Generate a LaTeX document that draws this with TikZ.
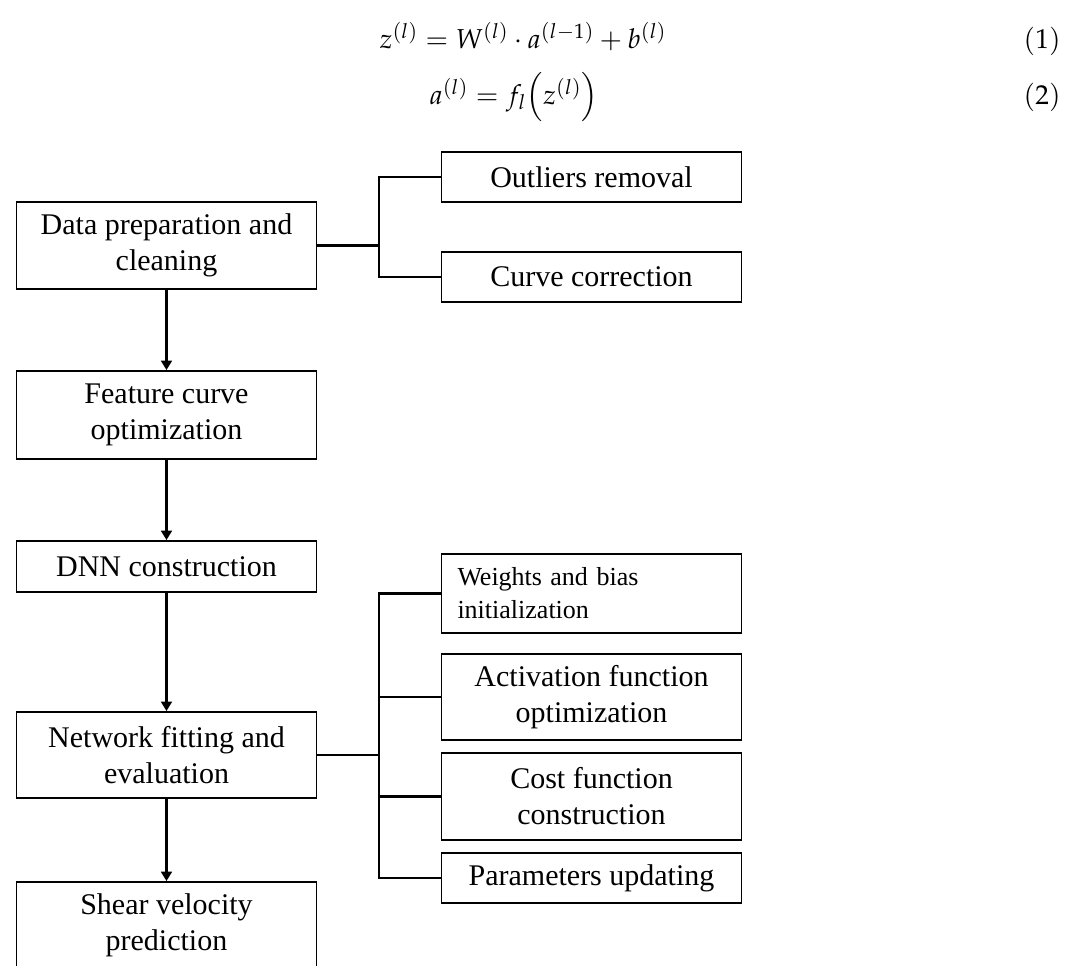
\documentclass[tikz,border=0pt]{standalone}
\usepackage{mathpazo}
\usepackage[no-math]{fontspec}
\newfontfamily\boxfont{Liberation Serif}
\usetikzlibrary{arrows.meta}

\begin{document}
\begin{tikzpicture}[x=0.75pt,y=-0.75pt,
  box/.style={draw, line width=1.4pt, minimum width=225pt, inner sep=0pt,
    align=center, font=\boxfont\fontsize{22.5}{27}\selectfont},
  smallbox/.style={box, align=left, text width=201pt, inner xsep=12pt,
    font=\boxfont\fontsize{19.5}{24.75}\selectfont},
  link/.style={line width=1.9pt},
  flow/.style={link, -{Triangle[length=7pt,width=8pt]}},
  eqn/.style={anchor=base, font=\fontsize{20.5}{24}\selectfont, inner sep=0pt}]

\useasboundingbox (0,0) rectangle (1065,965);

% equations
\node[eqn] (eq1) at (523,48) {$z^{(l)} = W^{(l)}\cdot a^{(l-1)} + b^{(l)}$};
\node[eqn] (eq2) at (514,104) {$a^{(l)} = f_l\smash{\left(z^{(l)}\right)}$};
\node[eqn, anchor=base east] (num1) at (1061,48) {$(1)$};
\node[eqn, anchor=base east] (num2) at (1061,104) {$(2)$};

% main chain
\node[box, minimum height=65.25pt] (data)  at (166.5,245.5) {Data preparation and\\cleaning};
\node[box, minimum height=66pt]    (feat)  at (166.5,415)   {Feature curve\\optimization};
\node[box, minimum height=38.25pt] (dnn)   at (166.5,566.5) {DNN construction};
\node[box, minimum height=64.5pt]  (netw)  at (166.5,755)   {Network fitting and\\evaluation};
\node[box, minimum height=64.5pt]  (shear) at (166.5,925)   {Shear velocity\\prediction};

% sub-steps of data preparation
\node[box, minimum height=37.5pt] (outl) at (591.5,177) {Outliers removal};
\node[box, minimum height=37.5pt] (curv) at (591.5,277) {Curve correction};

% sub-steps of network fitting
\node[smallbox, minimum height=59.25pt] (wts)  at (591.5,593.5) {Weights\hspace{0.32em}and bias\\initialization};
\node[box, minimum height=64.5pt]       (actv) at (591.5,697)   {Activation function\\optimization};
\node[box, minimum height=65.25pt]      (cost) at (591.5,796.5) {Cost function\\construction};
\node[box, minimum height=37.5pt]       (parm) at (591.5,878)   {Parameters updating};

% flow arrows
\draw[flow] (data) -- (feat);
\draw[flow] (feat) -- (dnn);
\draw[flow] (dnn) -- (netw);
\draw[flow] (netw) -- (shear);

% branch brackets
\coordinate (j1) at (379,245.5);
\draw[link] (data.east) -- (j1);
\draw[link] (outl.west) -| (j1) |- (curv.west);

\coordinate (j2) at (379,755);
\draw[link] (netw.east) -- (j2);
\draw[link] (wts.west) -| (j2) |- (parm.west);
\draw[link] (actv.west) -- (actv.west -| j2);
\draw[link] (cost.west) -- (cost.west -| j2);
\end{tikzpicture}
\end{document}
